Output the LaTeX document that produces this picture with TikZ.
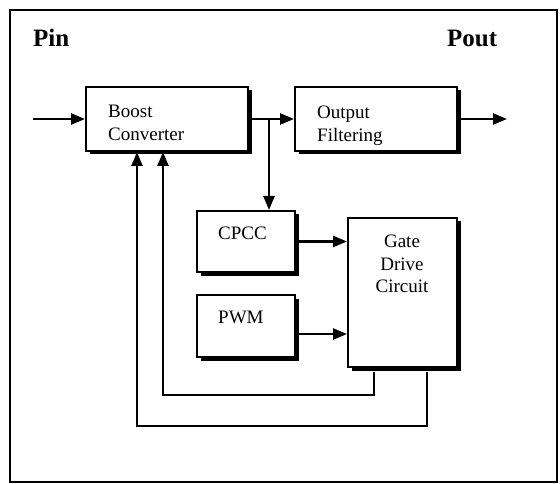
\documentclass[tikz,border=0pt]{standalone}
\usepackage{fontspec}
\setmainfont{Liberation Serif}
\usetikzlibrary{arrows.meta,shadows}
\begin{document}
\begin{tikzpicture}[x=1pt,y=-1pt,
  line width=2.4pt,
  blk/.style={draw, fill=white, line width=2pt, inner sep=0pt,
    drop shadow={shadow xshift=3.5pt, shadow yshift=-3.5pt, fill=black, opacity=1}},
  txt/.style={inner sep=0pt, font=\fontsize{19}{22.5}\selectfont},
  ttl/.style={inner sep=0pt, font=\fontsize{25}{28}\selectfont\bfseries},
  arr/.style={-{Triangle[length=14pt,width=11pt]}}]
\useasboundingbox (0,0) rectangle (560,484);
\draw[line width=2.4pt] (10,10) rectangle (557,482);

\node[ttl, anchor=base west] (pin) at (32,47) {Pin};
\node[ttl, anchor=base west] (pout) at (446,47) {Pout};

\node[blk, minimum width=162pt, minimum height=64pt] (boost) at (167,119) {};
\node[blk, minimum width=162pt, minimum height=64pt] (outf) at (376,119) {};
\node[blk, minimum width=98pt, minimum height=61pt] (cpcc) at (246,241.5) {};
\node[blk, minimum width=98pt, minimum height=62pt] (pwm) at (246,326) {};
\node[blk, minimum width=109pt, minimum height=149pt] (gate) at (402.5,292.5) {};

\node[txt, anchor=north west, align=left] (tboost) at (107,104) {Boost\\Converter};
\node[txt, anchor=north west, align=left] (toutf) at (316,105) {Output\\Filtering};
\node[txt, anchor=north west] (tcpcc) at (217,226) {CPCC};
\node[txt, anchor=north west] (tpwm) at (217,310) {PWM};
\node[txt, anchor=north, align=center] (tgate) at (402,234) {Gate\\Drive\\Circuit};

\coordinate (in) at (33,119);
\coordinate (outp) at (507,119);
\coordinate (j) at (269,119);
\coordinate (f1) at (374,395);
\coordinate (b1) at (163,395);
\coordinate (f2) at (427,426);
\coordinate (b2) at (137,426);

\draw[arr] (in) -- (boost.west);
\draw[arr] (boost.east) -- (outf.west);
\draw[arr] (outf.east) -- (outp);
\draw[arr] (j) -- (j |- cpcc.north);
\draw[arr] (cpcc.east) -- (cpcc.east -| gate.west);
\draw[arr] ([yshift=-8pt]pwm.east) -- ([yshift=-8pt]pwm.east -| gate.west);
\draw[arr] ([yshift=-3.5pt]gate.south -| f1) -- (f1) -- (b1) -- (boost.south -| b1);
\draw[arr] ([yshift=-3.5pt]gate.south -| f2) -- (f2) -- (b2) -- (boost.south -| b2);
\end{tikzpicture}
\end{document}
